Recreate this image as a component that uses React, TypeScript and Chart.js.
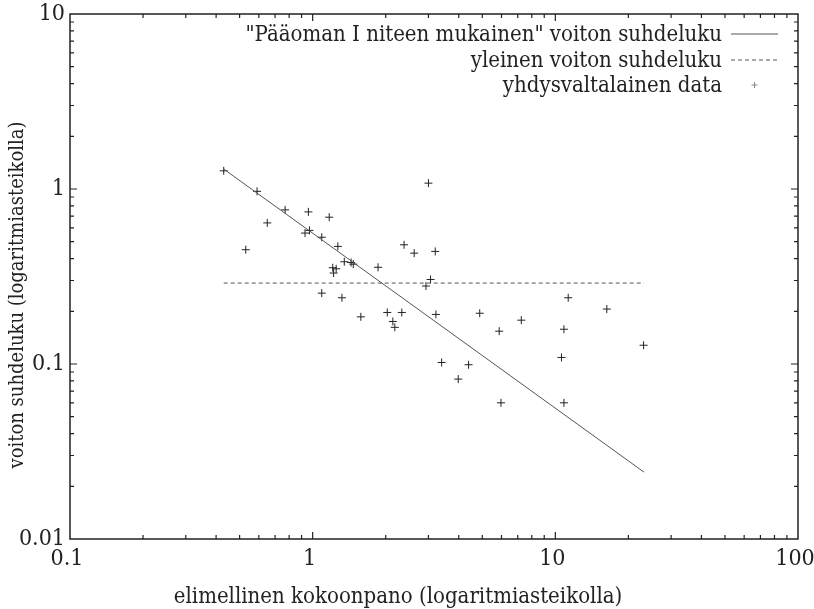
import React, { useEffect, useRef } from 'react';
import { Chart, registerables } from 'chart.js';

Chart.register(...registerables);

// ---- data ----
const xTickValues = [0.1, 1, 10, 100];
const yTickValues = [0.01, 0.1, 1, 10];

const dataX = [
  0.43, 0.59, 0.77, 0.96, 1.17, 3.0, 0.65, 0.97, 0.93, 1.09, 0.53, 1.27, 2.38, 2.62, 3.2,
  1.35, 1.44, 1.47, 1.21, 1.25, 1.22, 1.86, 3.06, 2.93, 1.09, 1.32, 1.58, 2.03, 2.33, 3.22,
  2.14, 2.18, 4.88, 11.3, 16.3, 7.24, 5.87, 10.85, 23.1, 3.4, 4.39, 10.6, 3.98, 5.97, 10.85,
];
const dataY = [
  1.27, 0.97, 0.76, 0.74, 0.69, 1.08, 0.64, 0.58, 0.56, 0.53, 0.45, 0.47, 0.48, 0.43, 0.44,
  0.384, 0.38, 0.372, 0.355, 0.35, 0.331, 0.357, 0.304, 0.279, 0.254, 0.239, 0.186, 0.197, 0.197, 0.192,
  0.175, 0.162, 0.195, 0.239, 0.206, 0.178, 0.154, 0.158, 0.128, 0.102, 0.099, 0.109, 0.082, 0.06, 0.06,
];

const capitalLineX = [0.43, 23.2];
const capitalLineY = [1.3, 0.0241];
const generalLineX = [0.43, 23.2];
const generalLineY = [0.29, 0.29];

const legendLabels = [
  '"Pääoman I niteen mukainen" voiton suhdeluku',
  'yleinen voiton suhdeluku',
  'yhdysvaltalainen data',
];
const xTitle = 'elimellinen kokoonpano (logaritmiasteikolla)';
const yTitle = 'voiton suhdeluku (logaritmiasteikolla)';

const FAMILY = "'DejaVu Serif Condensed', 'DejaVu Serif', serif";
const TEXT = '#222';
const LINE_COLOR = '#555';
const POINT_COLOR = '#222';

const framePlugin = {
  id: 'frameTicks',
  afterDatasetsDraw(chart: any) {
    const { ctx, chartArea: a, scales } = chart;
    const xs = scales.x;
    const ys = scales.y;
    ctx.save();
    ctx.strokeStyle = '#222';
    ctx.lineWidth = 1.5;
    ctx.strokeRect(a.left, a.top, a.right - a.left, a.bottom - a.top);
    ctx.lineWidth = 1.2;
    const major = 7;
    const minor = 4;
    ctx.beginPath();
    for (let e = -1; e <= 1; e++) {
      for (let m = 1; m <= 9; m++) {
        const v = m * Math.pow(10, e);
        if (v <= 0.1 || v >= 100) continue;
        const px = xs.getPixelForValue(v);
        const len = m === 1 ? major : minor;
        ctx.moveTo(px, a.bottom);
        ctx.lineTo(px, a.bottom - len);
        ctx.moveTo(px, a.top);
        ctx.lineTo(px, a.top + len);
      }
    }
    for (let e = -2; e <= 0; e++) {
      for (let m = 1; m <= 9; m++) {
        const v = m * Math.pow(10, e);
        if (v <= 0.01 || v >= 10) continue;
        const py = ys.getPixelForValue(v);
        const len = m === 1 ? major : minor;
        ctx.moveTo(a.left, py);
        ctx.lineTo(a.left + len, py);
        ctx.moveTo(a.right, py);
        ctx.lineTo(a.right - len, py);
      }
    }
    ctx.stroke();

    // axis titles
    ctx.fillStyle = TEXT;
    ctx.textAlign = 'center';
    ctx.textBaseline = 'middle';
    ctx.font = `22px ${FAMILY}`;
    ctx.fillText(xTitle, 398, 597);
    ctx.save();
    ctx.font = `20px ${FAMILY}`;
    ctx.translate(18, 295);
    ctx.rotate(-Math.PI / 2);
    ctx.fillText(yTitle, 0, 0);
    ctx.restore();

    // legend (text left of sample, gnuplot style)
    ctx.font = `22px ${FAMILY}`;
    ctx.textAlign = 'right';
    const textRight = a.right - 76;
    const s0 = a.right - 67;
    const s1 = a.right - 20;
    const rows = [a.top + 20, a.top + 46, a.top + 71];
    legendLabels.forEach((t, i) => ctx.fillText(t, textRight, rows[i] + 1));
    ctx.lineWidth = 1;
    ctx.strokeStyle = LINE_COLOR;
    ctx.beginPath();
    ctx.moveTo(s0, rows[0]);
    ctx.lineTo(s1, rows[0]);
    ctx.stroke();
    ctx.setLineDash([4, 3]);
    ctx.beginPath();
    ctx.moveTo(s0, rows[1]);
    ctx.lineTo(s1, rows[1]);
    ctx.stroke();
    ctx.setLineDash([]);
    const cx = (s0 + s1) / 2;
    ctx.strokeStyle = '#888';
    ctx.beginPath();
    ctx.moveTo(cx - 3, rows[2]);
    ctx.lineTo(cx + 3, rows[2]);
    ctx.moveTo(cx, rows[2] - 3);
    ctx.lineTo(cx, rows[2] + 3);
    ctx.stroke();
    ctx.restore();
  },
};

export default function App() {
  const ref = useRef<HTMLCanvasElement | null>(null);
  useEffect(() => {
    if (!ref.current) return;
    const tickFont = { family: FAMILY, size: 23 };
    const chart = new Chart(ref.current, {
      type: 'scatter',
      data: {
        datasets: [
          {
            label: legendLabels[0],
            data: capitalLineX.map((x, i) => ({ x, y: capitalLineY[i] })),
            showLine: true,
            borderColor: LINE_COLOR,
            borderWidth: 1,
            pointRadius: 0,
          },
          {
            label: legendLabels[1],
            data: generalLineX.map((x, i) => ({ x, y: generalLineY[i] })),
            showLine: true,
            borderColor: LINE_COLOR,
            borderWidth: 1,
            borderDash: [4, 3],
            pointRadius: 0,
          },
          {
            label: legendLabels[2],
            data: dataX.map((x, i) => ({ x, y: dataY[i] })),
            showLine: false,
            pointStyle: 'cross',
            pointRadius: 4,
            borderWidth: 1,
            borderColor: POINT_COLOR,
            backgroundColor: POINT_COLOR,
          },
        ],
      },
      options: {
        animation: false,
        responsive: false,
        devicePixelRatio: 1,
        layout: { padding: { left: 0, top: 14, right: 16, bottom: 0 } },
        plugins: { legend: { display: false }, tooltip: { enabled: false } },
        scales: {
          x: {
            type: 'logarithmic',
            position: 'bottom',
            min: 0.1,
            max: 100,
            grid: { display: false, drawTicks: false },
            border: { display: false },
            ticks: {
              font: tickFont,
              color: TEXT,
              padding: 6,
              labelOffset: -3,
              autoSkip: false,
              maxRotation: 0,
              callback: (v: any) => String(v),
            },
            afterBuildTicks: (s: any) => {
              s.ticks = xTickValues.map((v) => ({ value: v }));
            },
            afterFit: (s: any) => {
              s.height = 70;
              s.paddingLeft = 0;
              s.paddingRight = 0;
            },
            title: { display: false },
          },
          y: {
            type: 'logarithmic',
            position: 'left',
            min: 0.01,
            max: 10,
            grid: { display: false, drawTicks: false },
            border: { display: false },
            ticks: {
              font: tickFont,
              color: TEXT,
              padding: 5,
              autoSkip: false,
              callback: (v: any) => String(v),
            },
            afterBuildTicks: (s: any) => {
              s.ticks = yTickValues.map((v) => ({ value: v }));
            },
            afterFit: (s: any) => {
              s.width = 70;
              s.paddingTop = 0;
              s.paddingBottom = 0;
            },
            title: { display: false },
          },
        },
      },
      plugins: [framePlugin],
    } as any);
    return () => chart.destroy();
  }, []);
  return (
    <div style={{ position: 'absolute', left: 0, top: 0, width: 814, height: 609, background: '#fff' }}>
      <canvas ref={ref} width={814} height={609} />
    </div>
  );
}
